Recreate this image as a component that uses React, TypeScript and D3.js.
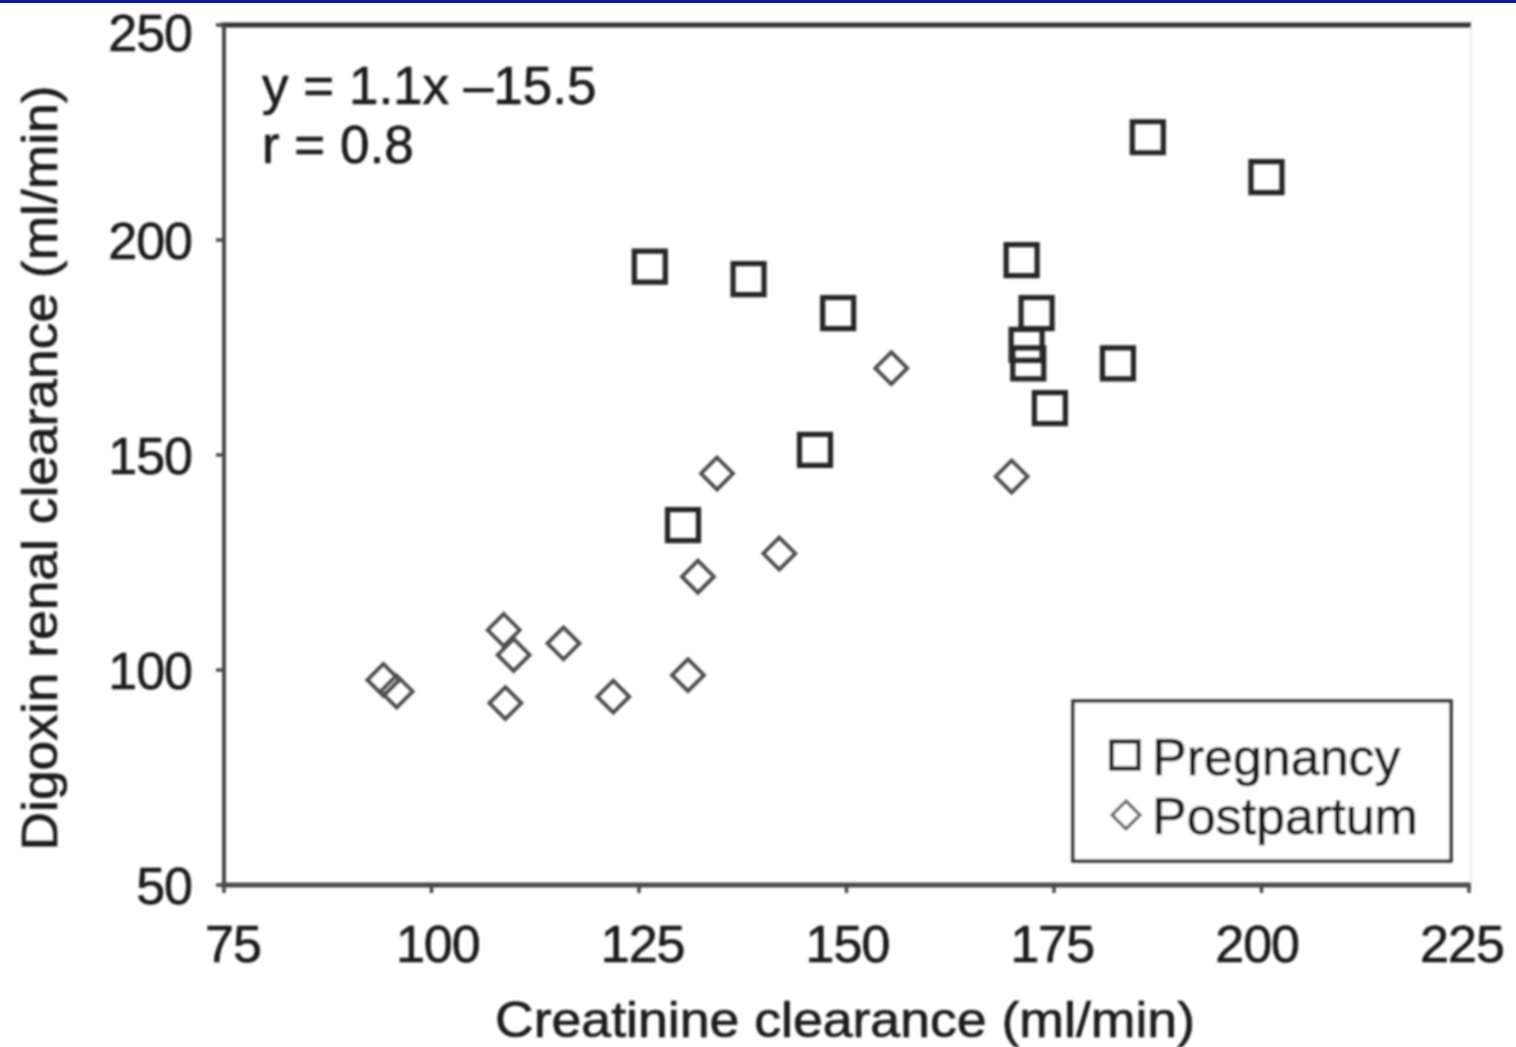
import React from "react";
import * as d3 from "d3";

// Creatinine clearance (x) vs digoxin renal clearance (y), ml/min
const pregnancyX = [126.3, 138.2, 149.0, 171.1, 172.9, 171.7, 171.9, 174.5, 182.7, 186.3, 200.6, 146.2, 130.3];
const pregnancyY = [193.8, 190.9, 183.0, 195.3, 183.0, 175.6, 171.3, 160.9, 171.3, 223.9, 214.6, 151.2, 133.7];

const postpartumX = [94.2, 95.8, 108.7, 109.9, 108.9, 115.9, 121.9, 130.9, 132.1, 141.9, 134.4, 155.4, 169.9];
const postpartumY = [97.7, 95.0, 109.3, 103.5, 92.3, 106.2, 93.8, 98.8, 121.7, 127.1, 145.7, 170.2, 145.0];

const xTicks = [75, 100, 125, 150, 175, 200, 225];
const yTicks = [50, 100, 150, 200, 250];

const equationLines = ["y = 1.1x \u201315.5", "r = 0.8"];
const legendLabels = ["Pregnancy", "Postpartum"];

const W = 1516;
const H = 1047;
const plot = { left: 224, right: 1469, top: 25, bottom: 885 };
const FONT = "'Liberation Sans', Arial, Helvetica, sans-serif";
const AXIS = "#333";
const INK = "#1e1e1e";

export default function App() {
  const x = d3.scaleLinear().domain([75, 225]).range([plot.left, plot.right]);
  const y = d3.scaleLinear().domain([50, 250]).range([plot.bottom, plot.top]);
  // tick labels sit on a slightly narrower span than the ticks themselves
  const xLabel = d3.scaleLinear().domain([75, 225]).range([233, 1462]);

  const sq = 31; // square marker side (path centre)
  const dm = 16; // diamond half-diagonal

  const squarePath = (cx: number, cy: number, s: number) =>
    `M${cx - s / 2},${cy - s / 2}h${s}v${s}h${-s}Z`;
  const diamondPath = (cx: number, cy: number, r: number) =>
    `M${cx},${cy - r}L${cx + r},${cy}L${cx},${cy + r}L${cx - r},${cy}Z`;

  const textProps = {
    fontFamily: FONT,
    fill: INK,
    stroke: INK,
    strokeWidth: 0.7,
  };

  return (
    <svg
      width={W}
      height={H}
      style={{ position: "absolute", left: 0, top: 0, background: "#fff" }}
    >
      <defs>
        <filter id="soft" x="-5%" y="-5%" width="110%" height="110%">
          <feGaussianBlur stdDeviation="0.9" />
        </filter>
      </defs>
      <rect x={0} y={0} width={W} height={H} fill="#fff" />
      <rect x={0} y={0} width={W} height={3} fill="#0c1a8a" />

      <g filter="url(#soft)">
        {/* faint right edge of plot frame */}
        <line x1={plot.right + 2} x2={plot.right + 2} y1={plot.top} y2={plot.bottom} stroke="#ececec" strokeWidth={2} />
        {/* top frame */}
        <line x1={plot.left - 3} x2={plot.right + 2} y1={plot.top} y2={plot.top} stroke={AXIS} strokeWidth={5} />
        {/* y axis */}
        <line x1={plot.left} x2={plot.left} y1={plot.top} y2={plot.bottom + 2} stroke="#4a4a4a" strokeWidth={4} />
        {/* x axis */}
        <line x1={plot.left - 3} x2={plot.right + 2} y1={plot.bottom} y2={plot.bottom} stroke="#4a4a4a" strokeWidth={5} />

        {yTicks.map((t) => (
          <g key={"y" + t}>
            <line x1={plot.left - 8} x2={plot.left} y1={y(t)} y2={y(t)} stroke="#4a4a4a" strokeWidth={3.5} />
            <text
              {...textProps}
              x={plot.left - 32}
              y={y(t)}
              dy={t === 250 ? "0.5em" : "0.37em"}
              textAnchor="end"
              fontSize={52}
              letterSpacing={-1}
            >
              {t}
            </text>
          </g>
        ))}

        {xTicks.map((t) => (
          <g key={"x" + t}>
            <line x1={x(t)} x2={x(t)} y1={plot.bottom} y2={plot.bottom + 8} stroke="#4a4a4a" strokeWidth={3.5} />
            <text
              {...textProps}
              x={xLabel(t)}
              y={962}
              textAnchor="middle"
              fontSize={52}
              letterSpacing={-1}
            >
              {t}
            </text>
          </g>
        ))}

        <text
          {...textProps}
          x={845}
          y={1037}
          textAnchor="middle"
          fontSize={50}
          textLength={700}
          lengthAdjust="spacingAndGlyphs"
        >
          Creatinine clearance (ml/min)
        </text>
        <text
          {...textProps}
          transform={`translate(57,468) rotate(-90)`}
          textAnchor="middle"
          fontSize={50}
          textLength={765}
          lengthAdjust="spacingAndGlyphs"
        >
          Digoxin renal clearance (ml/min)
        </text>

        {equationLines.map((s, i) => (
          <text
            {...textProps}
            key={s}
            x={262}
            y={104 + i * 59}
            fontSize={53}
          >
            {s}
          </text>
        ))}

        {postpartumX.map((v, i) => (
          <path
            key={"pp" + i}
            d={diamondPath(x(v), y(postpartumY[i]), dm)}
            fill="none"
            stroke="#4d4d4d"
            strokeWidth={3.8}
          />
        ))}

        {pregnancyX.map((v, i) => (
          <path
            key={"pg" + i}
            d={squarePath(x(v), y(pregnancyY[i]), sq)}
            fill="none"
            stroke="#262626"
            strokeWidth={5.2}
          />
        ))}

        {/* legend */}
        <rect x={1073} y={701} width={378} height={160} fill="#fff" stroke="#333" strokeWidth={3.5} />
        <path d={squarePath(1125, 755, 27)} fill="none" stroke="#2a2a2a" strokeWidth={4.5} />
        <path d={diamondPath(1126, 815, 14)} fill="none" stroke="#666" strokeWidth={3.2} />
        {legendLabels.map((s, i) => (
          <text
            {...textProps}
            key={s}
            x={1152}
            y={775 + i * 59}
            fontSize={52}
          >
            {s}
          </text>
        ))}
      </g>
    </svg>
  );
}
